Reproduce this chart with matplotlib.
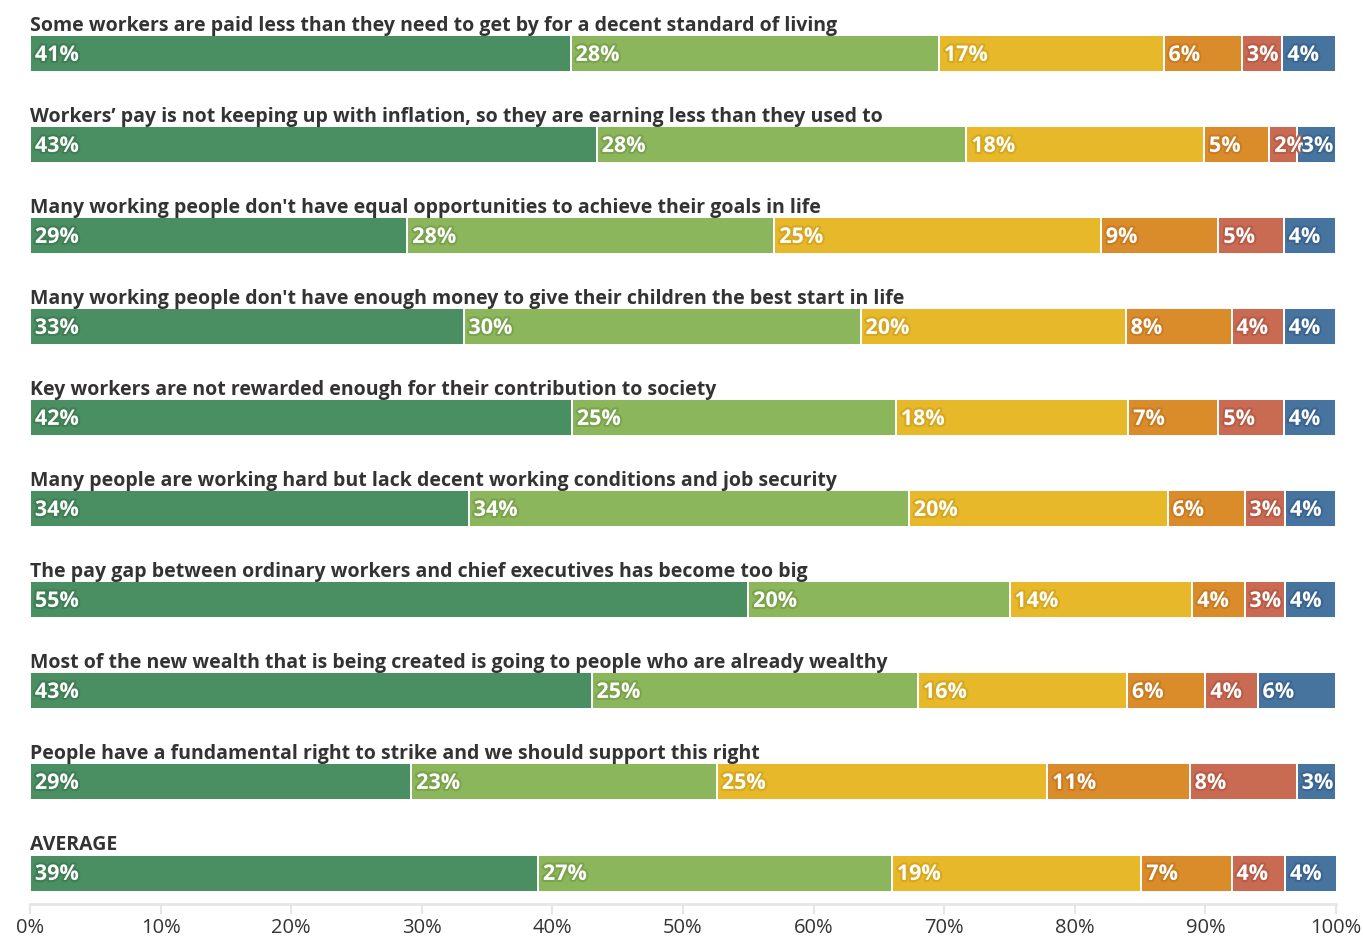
import matplotlib
matplotlib.use("Agg")
import matplotlib.pyplot as plt
import matplotlib.patheffects as pe

plt.rcParams['font.family'] = ['Open Sans', 'DejaVu Sans']

statements = [
    "Some workers are paid less than they need to get by for a decent standard of living",
    "Workers’ pay is not keeping up with inflation, so they are earning less than they used to",
    "Many working people don't have equal opportunities to achieve their goals in life",
    "Many working people don't have enough money to give their children the best start in life",
    "Key workers are not rewarded enough for their contribution to society",
    "Many people are working hard but lack decent working conditions and job security",
    "The pay gap between ordinary workers and chief executives has become too big",
    "Most of the new wealth that is being created is going to people who are already wealthy",
    "People have a fundamental right to strike and we should support this right",
    "AVERAGE",
]

# segment widths (percent) for each response category, per statement
strongly_agree = [41.4, 43.4, 28.9, 33.2, 41.5, 33.6, 55.0, 43.0, 29.2, 38.9]
agree          = [28.2, 28.3, 28.1, 30.4, 24.8, 33.7, 20.0, 25.0, 23.4, 27.1]
neither        = [17.2, 18.2, 25.0, 20.3, 17.8, 19.8, 14.0, 16.0, 25.3, 19.1]
disagree       = [6.0, 5.0, 9.0, 8.1, 6.9, 5.9, 4.0, 6.0, 10.9, 6.9]
strongly_dis   = [3.1, 2.1, 5.0, 4.0, 5.0, 3.1, 3.1, 4.0, 8.2, 4.1]
dont_know      = [4.1, 3.0, 4.0, 4.0, 4.0, 3.9, 3.9, 6.0, 3.0, 4.0]

# displayed labels (rounded)
lab_sa = [41, 43, 29, 33, 42, 34, 55, 43, 29, 39]
lab_a  = [28, 28, 28, 30, 25, 34, 20, 25, 23, 27]
lab_n  = [17, 18, 25, 20, 18, 20, 14, 16, 25, 19]
lab_d  = [6, 5, 9, 8, 7, 6, 4, 6, 11, 7]
lab_sd = [3, 2, 5, 4, 5, 3, 3, 4, 8, 4]
lab_dk = [4, 3, 4, 4, 4, 4, 4, 6, 3, 4]

series = [strongly_agree, agree, neither, disagree, strongly_dis, dont_know]
labels = [lab_sa, lab_a, lab_n, lab_d, lab_sd, lab_dk]
colors = ['#4a8f62', '#8cb65b', '#e7b829', '#db8c2a', '#c96a53', '#46749f']
halo = ['#3f7d54', '#7aa34c', '#d6a81f', '#c97c22', '#b85c47', '#3b6590']

W, H = 1363, 938
fig = plt.figure(figsize=(W / 100, H / 100), dpi=100)
ax_left, ax_right = 30, 1336
ax_top, ax_bottom = 0, 904
ax = fig.add_axes([ax_left / W, (H - ax_bottom) / H, (ax_right - ax_left) / W, (ax_bottom - ax_top) / H])

spacing = 91.0
c0 = 54.0
ax.set_ylim((ax_bottom - c0) / spacing, (ax_top - c0) / spacing)
ax.set_xlim(0, 100)

n = len(statements)
ys = list(range(n))
bar_h = 37 / spacing
left = [0.0] * n
for vals, labs, col, hc in zip(series, labels, colors, halo):
    ax.barh(ys, vals, left=left, height=bar_h, color=col, edgecolor='white', linewidth=1.4)
    for i in range(n):
        ax.annotate(f"{labs[i]}%", xy=(left[i], ys[i]), xytext=(3.5, -1), textcoords='offset points',
                    ha='left', va='center', color='white', fontsize=15.5, fontweight='bold',
                    path_effects=[pe.withStroke(linewidth=3, foreground=hc)])
    left = [l + v for l, v in zip(left, vals)]

for i, s in enumerate(statements):
    ax.text(0, i - 0.25, s, ha='left', va='baseline', fontsize=14, fontweight='bold', color='#333333')

for sp in ['top', 'left', 'right']:
    ax.spines[sp].set_visible(False)
ax.spines['bottom'].set_color('#e6e6e6')
ax.spines['bottom'].set_linewidth(2)
ax.set_yticks([])
ticks = list(range(0, 101, 10))
ax.set_xticks(ticks)
ax.set_xticklabels([f"{t}%" for t in ticks])
ax.tick_params(axis='x', length=7, width=1.5, color='#e6e6e6', labelsize=14.5, labelcolor='#333333', pad=3)

fig.savefig('out.png', dpi=100)
